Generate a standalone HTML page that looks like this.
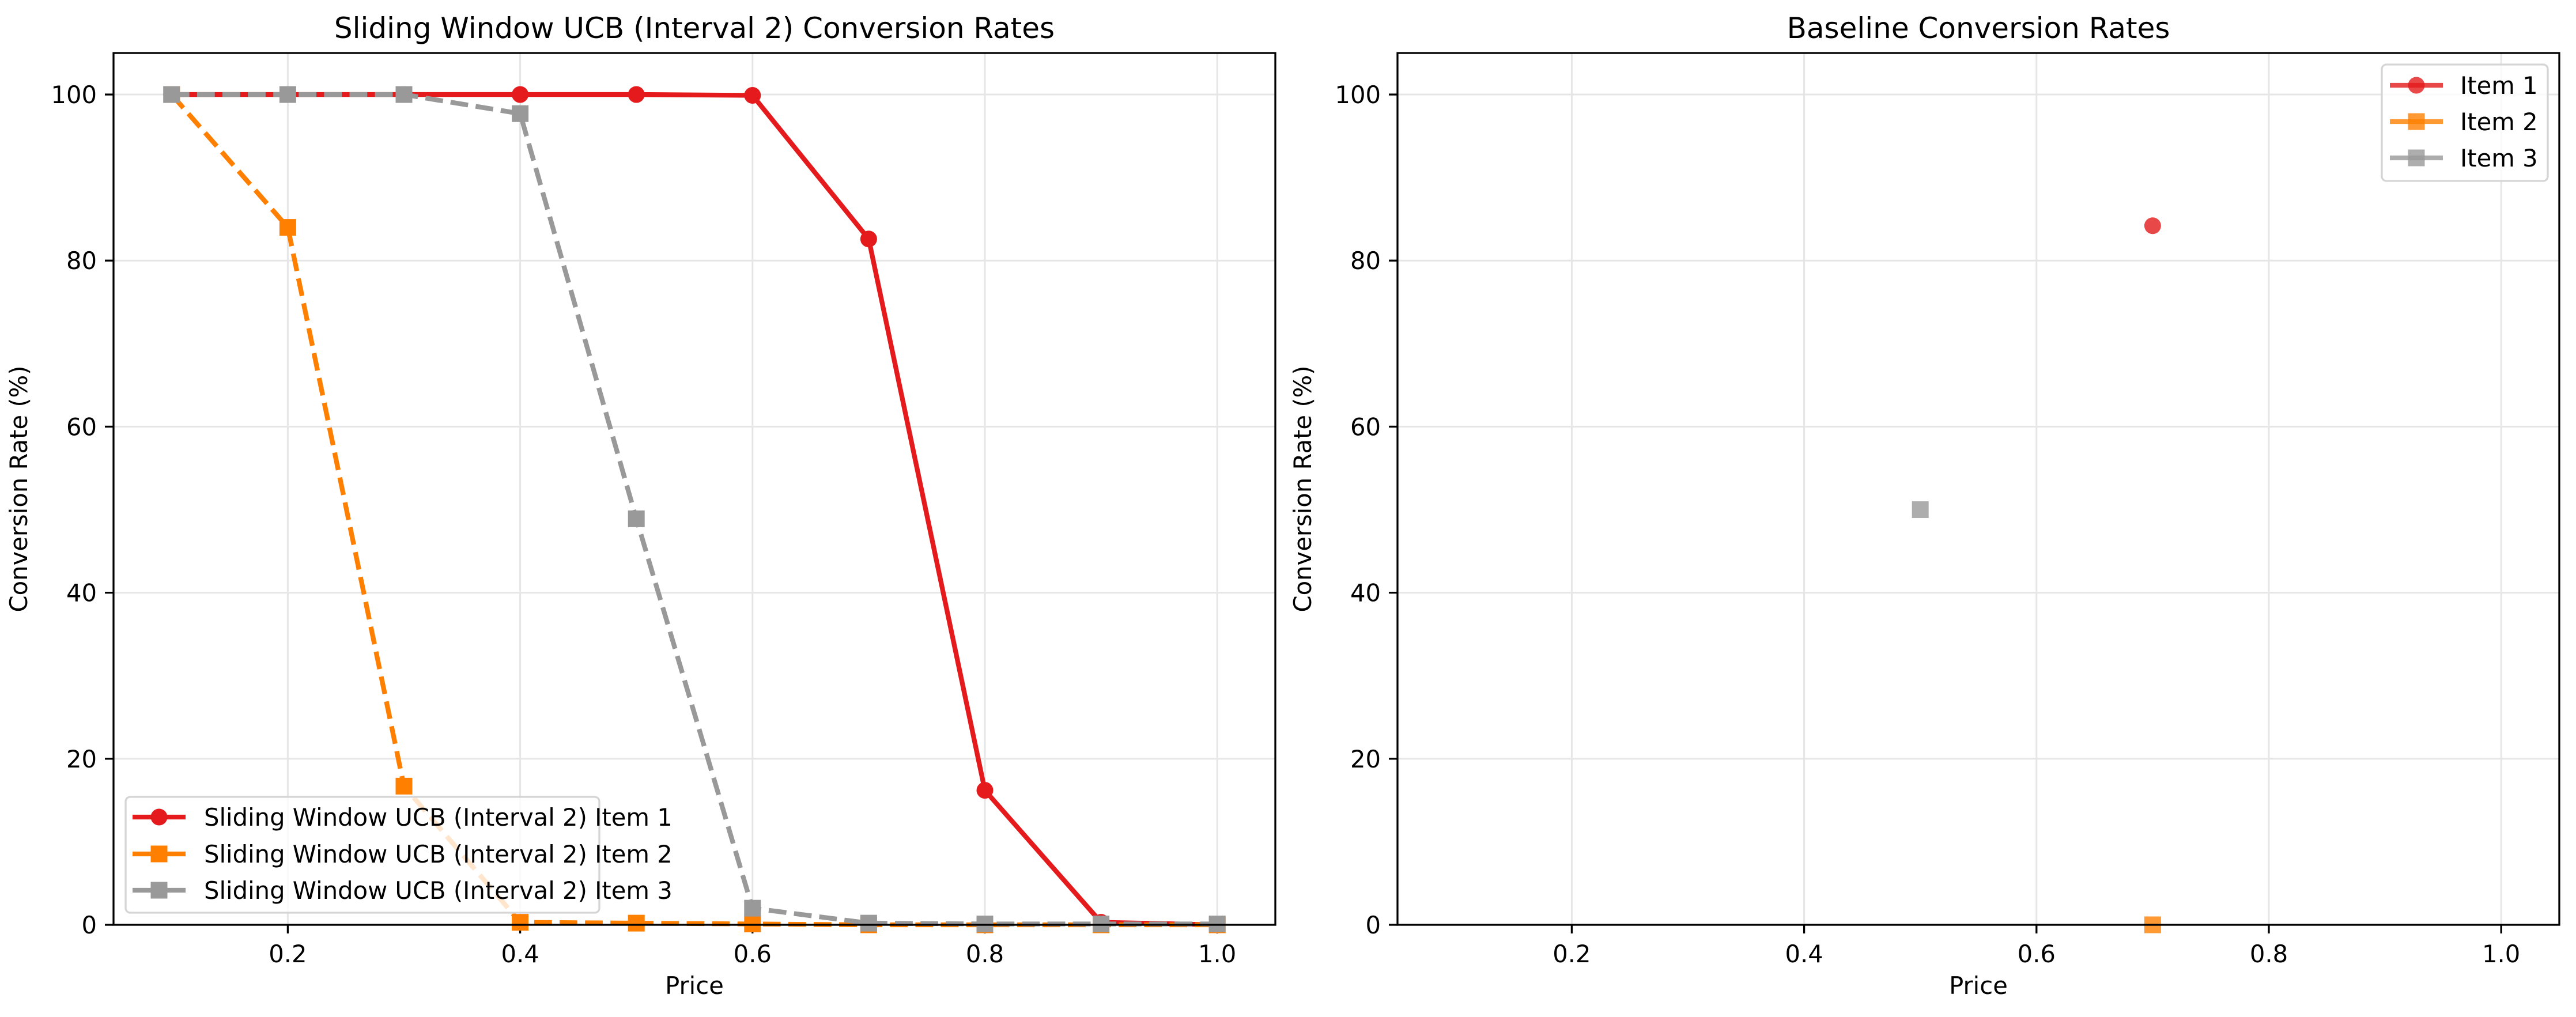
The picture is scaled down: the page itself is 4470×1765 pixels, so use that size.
<!DOCTYPE html>
<html><head><meta charset="utf-8">
<style>
html,body{margin:0;padding:0;background:#fff;}
svg{display:block;font-family:"DejaVu Sans","Liberation Sans",sans-serif;}
</style></head>
<body>
<svg id="fig" width="4470" height="1765" viewBox="0 0 4470 1765" xmlns="http://www.w3.org/2000/svg"></svg>
<script>
const prices = [0.1,0.2,0.3,0.4,0.5,0.6,0.7,0.8,0.9,1.0];
const swItem1 = [100,100,100,100,100,99.9,82.6,16.2,0.3,0];
const swItem2 = [100,84,16.7,0.3,0.2,0.1,0,0,0,0];
const swItem3 = [100,100,100,97.7,48.9,2,0.2,0.1,0.1,0.1];
const baseX1 = [0.7], baseY1 = [84.2];
const baseX2 = [0.7], baseY2 = [0];
const baseX3 = [0.5], baseY3 = [50];
const xTicks = [0.2,0.4,0.6,0.8,1.0];
const xTickLabels = ["0.2","0.4","0.6","0.8","1.0"];
const yTicks = [0,20,40,60,80,100];
const yTickLabels = ["0","20","40","60","80","100"];

const NS="http://www.w3.org/2000/svg";
const svg=document.getElementById('fig');
function mk(tag,attrs,parent){const e=document.createElementNS(NS,tag);for(const k in attrs)e.setAttribute(k,attrs[k]);(parent||svg).appendChild(e);return e;}
const COL={r:"#e41a1c",o:"#ff7f00",g:"#999999"};
const TOP=92,BOT=1605;
function yS(v){return BOT-(v-0)*(BOT-TOP)/105;}

function axes(left,right,title,name){
  const g=mk('g',{});
  
  
  const xS=v=>left+(v-0.05)*(right-left)/1.0;
  xTicks.forEach(t=>{const l=mk('line',{x1:xS(t),x2:xS(t),y1:TOP,y2:BOT,stroke:"#e6e6e6","stroke-width":3},g);
    });
  yTicks.forEach(t=>{const l=mk('line',{x1:left,x2:right,y1:yS(t),y2:yS(t),stroke:"#e6e6e6","stroke-width":3},g);
    });
  xTicks.forEach((t,i)=>{mk('line',{x1:xS(t),x2:xS(t),y1:BOT,y2:BOT+15,stroke:"#000","stroke-width":3.3},g);
    const tx=mk('text',{x:xS(t),y:BOT+65,"font-size":41.7,"text-anchor":"middle",fill:"#000"},g);tx.textContent=xTickLabels[i];
    });
  yTicks.forEach((t,i)=>{mk('line',{x1:left-15,x2:left,y1:yS(t),y2:yS(t),stroke:"#000","stroke-width":3.3},g);
    const tx=mk('text',{x:left-29,y:yS(t)+15,"font-size":41.7,"text-anchor":"end",fill:"#000"},g);tx.textContent=yTickLabels[i];
    });
  const tt=mk('text',{x:(left+right)/2,y:66,"font-size":50,"text-anchor":"middle",fill:"#000"},g);tt.textContent=title;
  
  const xl=mk('text',{x:(left+right)/2,y:1725,"font-size":41.7,"text-anchor":"middle",fill:"#000"},g);xl.textContent="Price";
  
  const yx=left-150;
  const yl=mk('text',{x:yx,y:(TOP+BOT)/2,"font-size":41.7,"text-anchor":"middle",fill:"#000",transform:`rotate(-90 ${yx} ${(TOP+BOT)/2})`},g);yl.textContent="Conversion Rate (%)";
  
  return {g,xS};
}
function marker(g,shape,x,y,col,op){
  let m;
  if(shape==='o') m=mk('circle',{cx:x,cy:y,r:14.5,fill:col,"fill-opacity":op},g);
  else m=mk('rect',{x:x-14.5,y:y-14.5,width:29,height:29,fill:col,"fill-opacity":op},g);
  return m;
}
function series(ax,xs,ys,col,dash,shape,op,name){
  const g=mk('g',{},ax.g);
  
  
  const pts=xs.map((x,i)=>ax.xS(x)+","+yS(ys[i])).join(" ");
  if(xs.length>1){const pl=mk('polyline',{points:pts,fill:"none",stroke:col,"stroke-width":8.3,"stroke-opacity":op,"stroke-dasharray":dash?"30.8 13.3":"none","stroke-linejoin":"round"},g);
    }
  xs.forEach((x,i)=>{const m=marker(g,shape,ax.xS(x),yS(ys[i]),col,op);
    });
}
function spines(ax,left,right){
  const r=mk('rect',{x:left,y:TOP,width:right-left,height:BOT-TOP,fill:"none",stroke:"#000","stroke-width":3.3},ax.g);
  
}
function legend(ax,bx,by,bw,bh,rows,hx1,hx2,tx,op,name){
  const g=mk('g',{},ax.g);
  
  
  mk('rect',{x:bx,y:by,width:bw,height:bh,rx:8,fill:"#fff","fill-opacity":0.8,stroke:"#d5d5d5","stroke-width":3.3},g);
  rows.forEach(r=>{
    const e=mk('g',{},g);
    
    
    mk('line',{x1:hx1,x2:hx2,y1:r.y,y2:r.y,stroke:r.col,"stroke-width":8.3,"stroke-opacity":op},e);
    marker(e,r.shape,(hx1+hx2)/2,r.y,r.col,op);
    const t=mk('text',{x:tx,y:r.y+15,"font-size":41.7,fill:"#000"},e);t.textContent=r.label;
  });
}
const L1=197,R1=2213;
const a1=axes(L1,R1,"Sliding Window UCB (Interval 2) Conversion Rates","left-chart");
series(a1,prices,swItem1,COL.r,false,'o',1,'sw-item-1');
series(a1,prices,swItem2,COL.o,true,'s',1,'sw-item-2');
series(a1,prices,swItem3,COL.g,true,'s',1,'sw-item-3');
legend(a1,218,1383,822,201,[
  {y:1418,col:COL.r,shape:'o',label:"Sliding Window UCB (Interval 2) Item 1"},
  {y:1482,col:COL.o,shape:'s',label:"Sliding Window UCB (Interval 2) Item 2"},
  {y:1545,col:COL.g,shape:'s',label:"Sliding Window UCB (Interval 2) Item 3"}],230,322,354,1,'left-legend');
spines(a1,L1,R1);
const L2=2425,R2=4441;
const a2=axes(L2,R2,"Baseline Conversion Rates","right-chart");
series(a2,baseX1,baseY1,COL.r,false,'o',0.8,'baseline-item-1');
series(a2,baseX2,baseY2,COL.o,true,'s',0.8,'baseline-item-2');
series(a2,baseX3,baseY3,COL.g,true,'s',0.8,'baseline-item-3');
legend(a2,4133,112,288,202,[
  {y:148,col:COL.r,shape:'o',label:"Item 1"},
  {y:211,col:COL.o,shape:'s',label:"Item 2"},
  {y:274,col:COL.g,shape:'s',label:"Item 3"}],4147,4239,4269,0.8,'right-legend');
spines(a2,L2,R2);
</script>
</body></html>
